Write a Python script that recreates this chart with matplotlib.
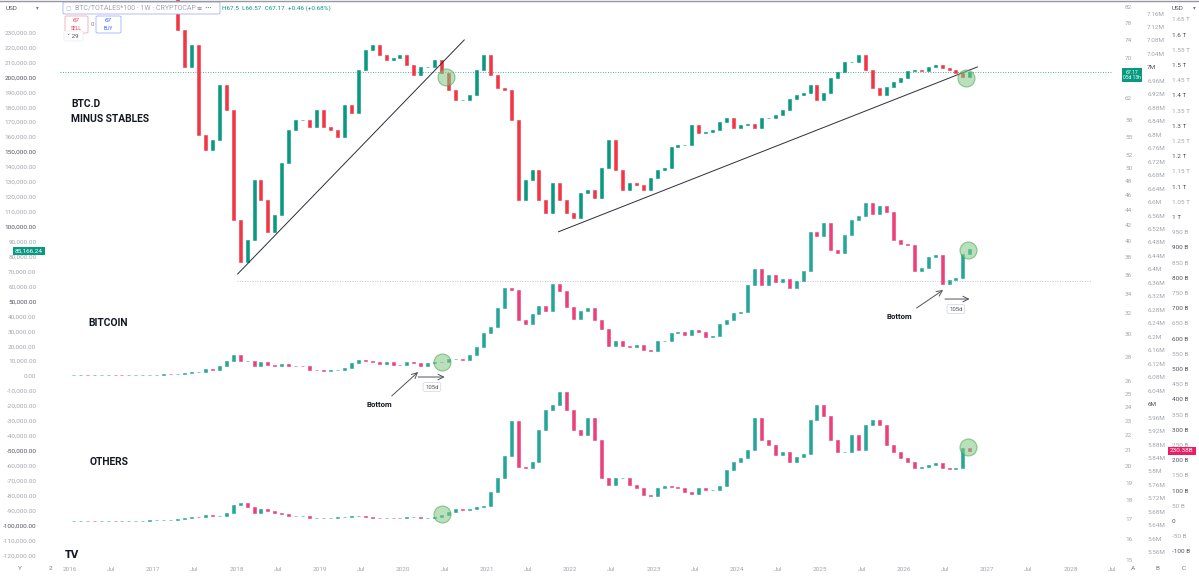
import numpy as np
import matplotlib
matplotlib.use("Agg")
import matplotlib.pyplot as plt
from matplotlib.patches import FancyBboxPatch
from matplotlib.ticker import NullLocator

plt.rcParams['font.family'] = ['Roboto', 'DejaVu Sans']

W, H = 1199, 579

# ---------------- data (monthly closes) ----------------
btc_start = (2016, 1)
btc_close = [
    369, 437, 416, 448, 531, 673, 624, 575, 609, 698, 742, 964,
    970, 1190, 1080, 1350, 2300, 2480, 2875, 4700, 4340, 6470, 10230, 14160,
    10220, 10330, 6930, 9240, 7490, 6390, 7730, 7030, 6630, 6370, 4040, 3740,
    3460, 3850, 4100, 5350, 8570, 10820, 10080, 9630, 8290, 9200, 7570, 7190,
    9350, 8600, 6440, 8660, 9460, 9140, 11350, 11660, 10780, 13800, 19700, 28990,
    33140, 45240, 58920, 57750, 37330, 35040, 41460, 47130, 43790, 61320, 57010, 46310,
    38480, 43190, 45540, 37710, 31790, 19780, 23300, 20050, 19430, 20500, 17170, 16550,
    23140, 23150, 28480, 29250, 27220, 30480, 29230, 25940, 26970, 34650, 37720, 42270,
    42580, 61200, 71330, 60640, 67490, 62680, 64630, 58970, 63330, 70220, 96450, 93430,
    102410, 84370, 82550, 94210, 104640, 107140, 115760, 108240, 114060, 109580, 91000, 88500,
    88000, 70000, 72000, 80000, 81000, 61500, 64000, 65500, 82000, 85166.24,
]

oth_start = (2016, 1)
oth_close = [  # billions USD
    1.0, 1.1, 1.3, 1.2, 1.3, 1.5, 1.4, 1.4, 1.4, 1.4, 1.5, 1.7,
    1.9, 2.1, 3.5, 5.0, 11.0, 14.0, 13.0, 19.0, 17.0, 17.0, 25.0, 52.0,
    60.0, 45.0, 27.0, 40.0, 33.0, 25.0, 24.0, 18.0, 17.0, 17.0, 11.0, 11.0,
    10, 11, 13, 13, 17, 17, 13, 11, 10, 11, 10, 9,
    12, 14, 9, 11, 13, 20, 30, 40, 35, 38, 45, 50,
    95, 140, 215, 330, 178, 175, 195, 300, 365, 382, 425, 365,
    300, 283, 340, 266, 141, 118, 141, 141, 118, 108, 85, 82,
    108, 115, 112, 108, 95, 89, 108, 102, 102, 115, 168, 194,
    207, 233, 339, 266, 250, 217, 227, 194, 210, 220, 332, 382,
    345, 266, 227, 227, 283, 233, 316, 332, 316, 250, 227, 207,
    194, 174, 178, 184, 191, 174, 171, 174, 240, 230.38,
]

dom_start = (2017, 3)
dom_close = [  # BTC.D minus stables, %
    86.0, 76.4, 68.2, 73.0, 55.3, 52.8, 54.5, 64.5, 59.8, 42.6,
    37.5, 40.1, 48.2, 45.3, 41.1, 43.3, 50.8, 56.2, 58.0, 58.0, 56.7, 59.8,
    56.7, 56.2, 55.0, 60.7, 59.2, 67.6, 71.9, 73.0, 70.8, 69.7, 70.1, 70.8,
    68.6, 66.5, 68.2, 68.2, 69.7, 67.0, 63.5, 61.6, 61.6, 62.6, 67.6, 70.8,
    66.5, 63.9, 63.5, 58.0, 45.3, 48.2, 49.7, 45.3, 43.5, 47.7, 45.3, 43.5,
    42.9, 46.3, 46.7, 45.6, 50.0, 54.5, 49.7, 46.7, 47.7, 47.5, 46.7, 48.5,
    49.7, 50.0, 53.3, 53.7, 53.7, 57.1, 55.7, 55.8, 56.2, 57.6, 58.3, 56.5,
    57.1, 57.2, 56.5, 58.3, 58.3, 58.8, 59.8, 61.8, 62.6, 63.0, 64.5, 61.6,
    63.0, 65.9, 67.2, 69.2, 69.2, 70.8, 67.6, 63.9, 62.6, 64.1, 65.1, 65.9,
    67.4, 67.6, 67.4, 68.2, 68.6, 68.0, 67.6, 67.0, 66.1, 67.17,
]

# trend lines (year, dominance %)
trend1 = [(2018.012, 36.1), (2020.729, 74.1)]
trend2 = [(2021.859, 41.1), (2026.882, 68.2)]
level_btc = 63575          # dotted horizontal level on BTC scale
level_btc_from = 2018.0
dom_last = 67.17

# highlight circles (year, value) per scale
circ_dom = [(2020.506, 66.1), (2026.741, 65.9)]
circ_btc = [(2020.459, 9369), (2026.765, 84320)]
circ_oth = [(2020.459, 23), (2026.765, 243)]

# axis tick labels
left_ticks = list(range(230000, -130000, -10000))
dom_ticks = [82, 78, 74, 70, 62, 58, 55, 52, 50, 48, 46, 44, 42, 40, 38, 36,
             34, 32, 30, 28, 26, 25, 24, 23, 22, 21, 20, 19, 18, 17, 16, 15]
b_ticks = [round(7.16 - 0.04 * i, 2) for i in range(41)]
oth_ticks = list(range(1650, -150, -50))
years = list(range(2016, 2029))

# ---------------- helpers ----------------
def month_x(start, n):
    y0 = start[0] + (start[1] - 1) / 12.0
    return y0 + (np.arange(n) + 0.5) / 12.0


def candles(ax, start, closes, up, down, width=0.036):
    c = np.asarray(closes, dtype=float)
    o = np.r_[c[0], c[:-1]]
    x = month_x(start, len(c))
    cols = [up if cc >= oo else down for oo, cc in zip(o, c)]
    ax.bar(x, c - o, bottom=o, width=width, color=cols, edgecolor=cols,
           linewidth=0.4, zorder=3)


def px(xp, yp):
    return xp / W, 1 - yp / H


fig = plt.figure(figsize=(W / 100, H / 100), dpi=100)
fig.patch.set_facecolor('white')

AX_L, AX_R, AX_T, AX_B = 60, 1112, 0, 562
rect = [AX_L / W, (H - AX_B) / H, (AX_R - AX_L) / W, (AX_B - AX_T) / H]
ax = fig.add_axes(rect)
ax.set_xlim(2015.882, 2028.259)
ax.set_ylim(-124500, 251700)

ax_dom = ax.twinx()
ax_dom.set_yscale('log')
ax_dom.set_ylim(14.90, 83.78)
ax_oth = ax.twinx()
ax_oth.set_ylim(-134.9, 1713.8)
ax_b = ax.twinx()
ax_b.set_ylim(5.5312, 7.2001)

for a in (ax, ax_dom, ax_oth, ax_b):
    for s in a.spines.values():
        s.set_visible(False)
    a.set_facecolor('none')
    a.yaxis.set_minor_locator(NullLocator())

LBL = '#a3a6af'
DARK = '#50535e'
FS = 4.6

# left axis
ax.set_yticks(left_ticks)
ax.set_yticklabels([f"{v:,.2f}" for v in left_ticks])
ax.tick_params(axis='y', length=0, pad=17.0, labelsize=FS, colors=LBL)
for t, v in zip(ax.get_yticklabels(), left_ticks):
    if v % 50000 == 0 and v != 0:
        t.set_color(DARK)

# x axis
xt, xl = [], []
for y in years:
    xt += [y, y + 0.496]
    xl += [str(y), 'Jul']
ax.set_xticks(xt)
ax.set_xticklabels(xl)
ax.tick_params(axis='x', length=0, pad=3.5, labelsize=FS, colors=LBL)

# right column A (dominance, log)
ax_dom.set_yticks(dom_ticks)
ax_dom.set_yticklabels([str(v) for v in dom_ticks])
ax_dom.tick_params(axis='y', which='both', length=0, pad=9.4, labelsize=FS, colors=LBL)

# right column B
ax_b.set_yticks(b_ticks)
ax_b.set_yticklabels([(f"{v:.2f}".rstrip('0').rstrip('.')) + 'M' for v in b_ticks])
ax_b.tick_params(axis='y', length=0, pad=25.3, labelsize=FS, colors=LBL)
for t, v in zip(ax_b.get_yticklabels(), b_ticks):
    if abs(v - round(v)) < 1e-6:
        t.set_color(DARK)

# right column C (OTHERS)
def fmt_oth(v):
    if v == 0:
        return '0'
    if abs(v) >= 1000:
        return (f"{v/1000:.2f}".rstrip('0').rstrip('.')) + ' T'
    return f"{v} B"

ax_oth.set_yticks(oth_ticks)
ax_oth.set_yticklabels([fmt_oth(v) for v in oth_ticks])
ax_oth.tick_params(axis='y', length=0, pad=43.2, labelsize=FS, colors=LBL)
for t, v in zip(ax_oth.get_yticklabels(), oth_ticks):
    if v % 100 == 0:
        t.set_color(DARK)

# ---------------- series ----------------
candles(ax_dom, dom_start, dom_close, '#089981', '#f23645')
candles(ax, btc_start, btc_close, '#26a69a', '#ec407a')
candles(ax_oth, oth_start, oth_close, '#26a69a', '#ec407a')

# level lines
ax_dom.axhline(dom_last, color='#089981', lw=0.6, ls=(0, (1, 2)), zorder=2)
ax.hlines(level_btc, level_btc_from, 2028.259, color='#b2b5be', lw=0.6,
          ls=(0, (1, 2)), zorder=2)

# trend lines
for tl in (trend1, trend2):
    ax_dom.plot([p[0] for p in tl], [p[1] for p in tl], color='#2a2e39', lw=0.7, zorder=4)

# circles
for a, pts in ((ax_dom, circ_dom), (ax, circ_btc), (ax_oth, circ_oth)):
    a.scatter([p[0] for p in pts], [p[1] for p in pts], s=150, facecolor='#81c784',
              edgecolor='#43a047', alpha=0.55, linewidth=0.8, zorder=5)

# arrows / annotations on the BTC scale
arrow_kw = dict(arrowstyle='->', color='#50535e', lw=0.7, shrinkA=0, shrinkB=0)
ax.annotate('', xy=(2020.176, 2677), xytext=(2019.859, -13384), arrowprops=arrow_kw, zorder=6)
ax.annotate('', xy=(2020.494, -669), xytext=(2020.176, -669), arrowprops=arrow_kw, zorder=6)
ax.annotate('', xy=(2026.471, 57552), xytext=(2026.153, 45506), arrowprops=arrow_kw, zorder=6)
ax.annotate('', xy=(2026.788, 51529), xytext=(2026.494, 51529), arrowprops=arrow_kw, zorder=6)
box_kw = dict(boxstyle='round,pad=0.35', fc='white', ec='#d1d4dc', lw=0.5)
ax.text(2020.341, -7361, '105d', fontsize=4.3, color='#50535e', ha='center', va='center',
        bbox=box_kw, zorder=7)
ax.text(2026.624, 44837, '105d', fontsize=4.3, color='#50535e', ha='center', va='center',
        bbox=box_kw, zorder=7)
ax.text(2019.706, -18738, 'Bottom', fontsize=5.6, fontweight='bold', color='#131722',
        ha='center', va='center', zorder=7)
ax.text(2025.941, 40153, 'Bottom', fontsize=5.6, fontweight='bold', color='#131722',
        ha='center', va='center', zorder=7)

# series titles
fig.text(*px(71, 104), 'BTC.D', fontsize=7.4, fontweight='bold', color='#131722', va='center')
fig.text(*px(71, 119), 'MINUS STABLES', fontsize=7.4, fontweight='bold', color='#131722', va='center')
fig.text(*px(88, 323), 'BITCOIN', fontsize=7.4, fontweight='bold', color='#131722', va='center')
fig.text(*px(90, 462), 'OTHERS', fontsize=7.4, fontweight='bold', color='#131722', va='center')

# price labels
fig.text(*px(29, 251), '85,166.24', fontsize=4.6, color='white', ha='center', va='center',
         bbox=dict(boxstyle='square,pad=0.3', fc='#089981', ec='none'))
fig.text(*px(1132, 75), '67.17\n05d 13h', fontsize=3.6, color='white', ha='center',
         va='center', linespacing=1.1,
         bbox=dict(boxstyle='square,pad=0.3', fc='#089981', ec='none'))
fig.text(*px(1182, 451), '230.38B', fontsize=4.6, color='white', ha='center', va='center',
         bbox=dict(boxstyle='square,pad=0.3', fc='#e91e63', ec='none'))

# header / legend
def fig_box(x0, y0, x1, y1, ec, fc='white', lw=0.6, r=2):
    p = FancyBboxPatch((x0 / W, 1 - y1 / H), (x1 - x0) / W, (y1 - y0) / H,
                       boxstyle=f'round,pad=0,rounding_size={r / W}',
                       transform=fig.transFigure, fc=fc, ec=ec, lw=lw, zorder=2)
    fig.add_artist(p)

fig_box(63, 2, 220, 14, '#a7b1f0')
fig.text(*px(66, 8), '○', fontsize=4.5, color='#b2b5be', va='center', zorder=4)
fig.text(*px(75, 8), 'BTC/TOTALES*100 · 1W · CRYPTOCAP', fontsize=5.0, color='#a3a6af',
         va='center', zorder=4)
fig.text(*px(197, 8), '≡  •••', fontsize=4.5, color='#787b86', va='center', zorder=4)
fig.text(*px(222, 8), 'H67.5  L66.57  C67.17  +0.46 (+0.68%)', fontsize=4.6,
         color='#089981', va='center', zorder=4)
fig_box(65, 16, 88, 33, '#f7a9b0')
fig.text(*px(76.5, 21), '67', fontsize=4.6, color='#f23645', ha='center', va='center', zorder=4)
fig.text(*px(76.5, 28), 'SELL', fontsize=3.6, color='#f23645', ha='center', va='center', zorder=4)
fig.text(*px(92, 24), '0', fontsize=4.3, color='#787b86', ha='center', va='center', zorder=4)
fig_box(96, 16, 121, 33, '#9fb4f7')
fig.text(*px(108.5, 21), '67', fontsize=4.6, color='#2962ff', ha='center', va='center', zorder=4)
fig.text(*px(108.5, 28), 'BUY', fontsize=3.6, color='#2962ff', ha='center', va='center', zorder=4)
fig_box(64, 31, 83, 41, '#eceef2', fc='white')
fig.text(*px(67, 36), '˅ 29', fontsize=4.5, color='#50535e', va='center', zorder=4)

fig.text(*px(6, 8), 'USD', fontsize=4.6, color='#50535e', va='center')
fig.text(*px(36, 8), '▾', fontsize=4.0, color='#787b86', va='center')
fig.text(*px(1172, 8), 'USD', fontsize=4.6, color='#50535e', va='center')
fig.text(*px(1193, 8), '▾', fontsize=4.0, color='#787b86', va='center')

# bottom bar
fig.text(*px(20, 569), 'Y', fontsize=FS, color='#787b86', ha='center', va='center')
fig.text(*px(51, 569), '2', fontsize=FS, color='#787b86', ha='center', va='center')
for xx, s in ((1133, 'A'), (1157, 'B'), (1184, 'C')):
    fig.text(*px(xx, 569), s, fontsize=FS, color='#787b86', ha='center', va='center')
fig.text(*px(72, 555), 'TV', fontsize=7, fontweight='bold', color='#131722',
         ha='center', va='center', family='DejaVu Sans')

# frame line at top
fig.add_artist(plt.Line2D([0, 1], [1 - 0.5 / H, 1 - 0.5 / H], transform=fig.transFigure,
                          color='#9598a1', lw=1.0))

fig.savefig('out.png', dpi=100, facecolor='white')
